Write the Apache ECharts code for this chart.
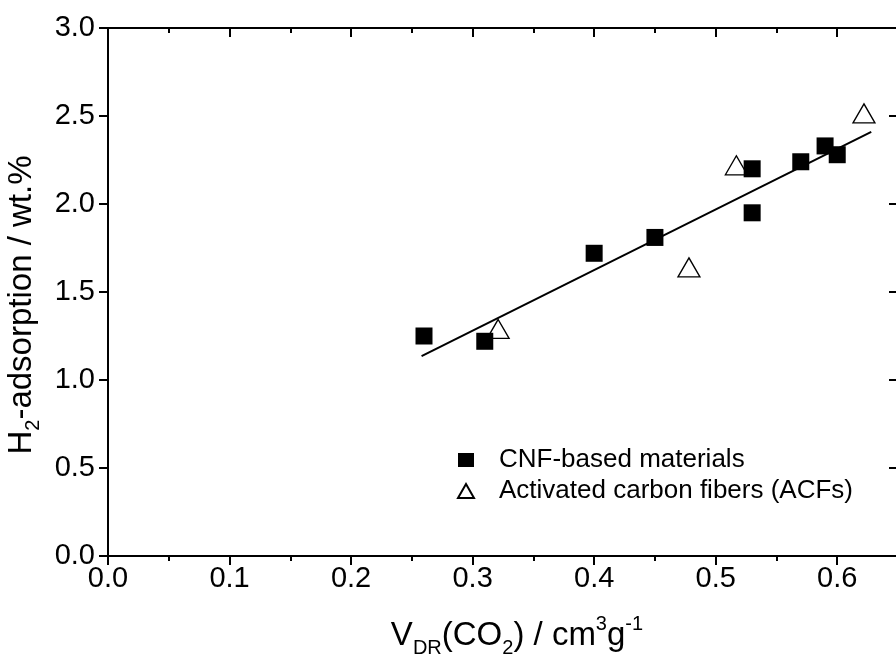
<!DOCTYPE html>
<html>
<head>
<meta charset="utf-8">
<script src="https://cdn.jsdelivr.net/npm/echarts@6/dist/echarts.min.js"></script>
<style>
html,body{margin:0;padding:0;background:#fff;overflow:hidden;}
#c{width:900px;height:661px;}
</style>
</head>
<body>
<div id="c"></div>
<script>
// Data
const cnfX = [0.26, 0.31, 0.40, 0.45, 0.53, 0.53, 0.57, 0.59, 0.60];
const cnfY = [1.25, 1.22, 1.72, 1.81, 2.20, 1.95, 2.24, 2.33, 2.28];
const acfX = [0.321, 0.478, 0.517, 0.622];
const acfY = [1.29, 1.64, 2.22, 2.515];
const fitX = [0.258, 0.628];
const fitY = [1.136, 2.41];
const seriesNames = ['CNF-based materials', 'Activated carbon fibers (ACFs)'];

const FONT = 'Liberation Sans, Arial, sans-serif';
const zip = (xs, ys) => xs.map((x, i) => [x, ys[i]]);

const richMain = { fontSize: 33, fontFamily: FONT, color: '#000', lineHeight: 44, verticalAlign: 'middle' };
const richSub = { fontSize: 20, fontFamily: FONT, color: '#000', lineHeight: 44, verticalAlign: 'bottom' };
const richSup = { fontSize: 20, fontFamily: FONT, color: '#000', lineHeight: 44, verticalAlign: 'top' };

const axisLineStyle = { color: '#000', width: 2 };
const tickStyle = { color: '#000', width: 2 };

const chart = echarts.init(document.getElementById('c'), null, { renderer: 'canvas' });
chart.setOption({
  animation: false,
  backgroundColor: '#fff',
  grid: { left: 108, right: 2, top: 28, bottom: 105, containLabel: false, outerBoundsMode: 'none' },
  legend: {
    orient: 'vertical',
    left: 452,
    top: 441,
    itemWidth: 16,
    itemHeight: 14,
    itemGap: 3,
    data: [
      { name: seriesNames[0], icon: 'rect' },
      { name: seriesNames[1], icon: 'triangle' }
    ],
    textStyle: { fontSize: 26, fontFamily: FONT, color: '#000', lineHeight: 28, padding: [0, 0, 0, 20] }
  },
  xAxis: [
    {
      type: 'value', position: 'bottom', min: 0, max: 0.65, interval: 0.1,
      axisLine: { show: true, onZero: false, lineStyle: axisLineStyle },
      axisTick: { show: true, inside: false, length: 9, lineStyle: tickStyle },
      minorTick: { show: true, splitNumber: 2, length: 5, lineStyle: tickStyle },
      splitLine: { show: false },
      axisLabel: { fontSize: 29, fontFamily: FONT, color: '#000', margin: 8, showMaxLabel: false,
        formatter: v => v.toFixed(1) },
      name: '{a|V}{b|DR}{a|(CO}{b|2}{a|) / cm}{c|3}{a|g}{c|-1}',
      nameLocation: 'middle',
      nameGap: 58,
      nameTextStyle: { padding: [0, 0, 0, 28], rich: { a: richMain, b: richSub, c: richSup } }
    },
    {
      type: 'value', position: 'top', min: 0, max: 0.65, interval: 0.1,
      axisLine: { show: true, onZero: false, lineStyle: axisLineStyle },
      axisTick: { show: true, inside: true, length: 9, lineStyle: tickStyle },
      minorTick: { show: true, splitNumber: 2, length: 5, lineStyle: tickStyle },
      splitLine: { show: false },
      axisLabel: { show: false }
    }
  ],
  yAxis: [
    {
      type: 'value', position: 'left', min: 0, max: 3, interval: 0.5,
      axisLine: { show: true, onZero: false, lineStyle: axisLineStyle },
      axisTick: { show: true, inside: false, length: 9, lineStyle: tickStyle },
      splitLine: { show: false },
      axisLabel: { fontSize: 29, fontFamily: FONT, color: '#000', margin: 13,
        formatter: v => v.toFixed(1) },
      name: '{a|H}{b|2}{a|-adsorption / wt.%}',
      nameLocation: 'middle',
      nameGap: 62,
      nameTextStyle: { padding: [0, 26, 0, 0], rich: { a: richMain, b: richSub, c: richSup } }
    },
    {
      type: 'value', position: 'right', min: 0, max: 3, interval: 0.5,
      axisLine: { show: true, onZero: false, lineStyle: axisLineStyle },
      axisTick: { show: true, inside: true, length: 9, lineStyle: tickStyle },
      splitLine: { show: false },
      axisLabel: { show: false }
    }
  ],
  series: [
    {
      name: 'fit', type: 'line', xAxisIndex: 0, yAxisIndex: 0,
      data: zip(fitX, fitY), showSymbol: false, symbol: 'none',
      lineStyle: { color: '#000', width: 2 }, z: 1, silent: true
    },
    {
      name: seriesNames[0], type: 'scatter', xAxisIndex: 0, yAxisIndex: 0,
      data: zip(cnfX, cnfY), symbol: 'rect', symbolSize: 17,
      itemStyle: { color: '#000', opacity: 1 }, z: 3
    },
    {
      name: seriesNames[1], type: 'scatter', xAxisIndex: 0, yAxisIndex: 0,
      data: zip(acfX, acfY), symbol: 'triangle', symbolSize: [22, 19],
      itemStyle: { color: '#fff', borderColor: '#000', borderWidth: 1.3, opacity: 1 }, z: 2
    }
  ]
});
</script>
</body>
</html>
